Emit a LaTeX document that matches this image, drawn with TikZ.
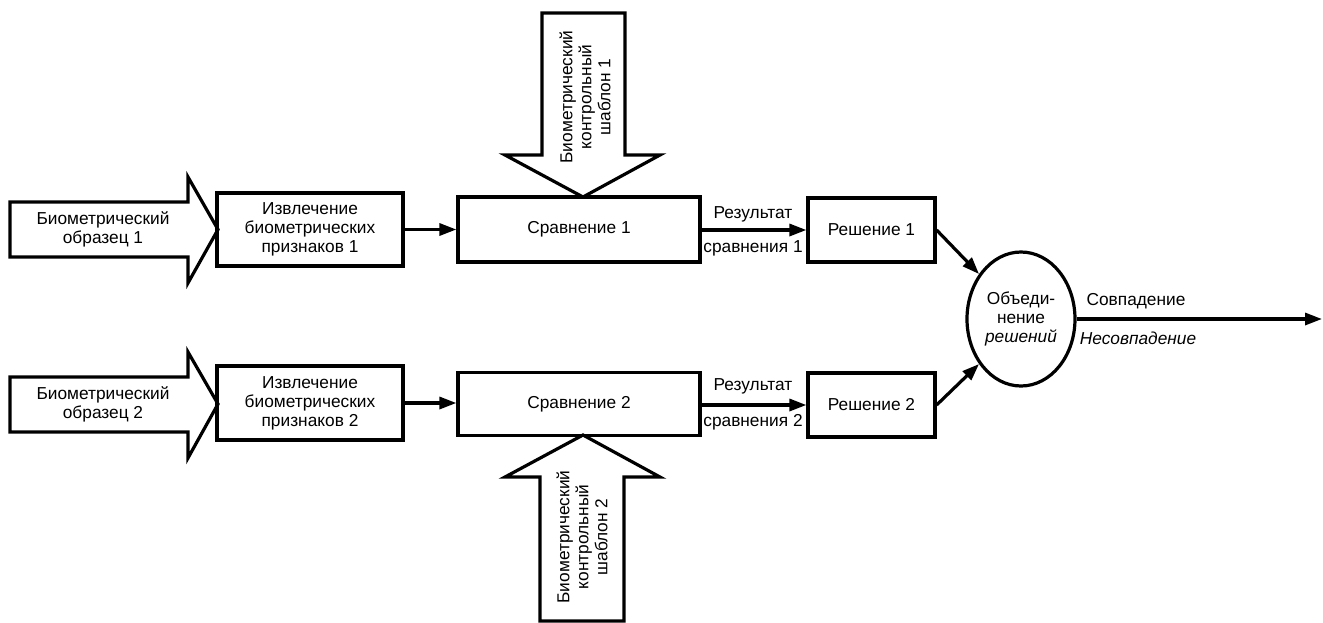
\documentclass[tikz,border=0pt]{standalone}
\usepackage{fontspec}
\setmainfont{Liberation Sans}
\usetikzlibrary{arrows.meta,shapes.geometric}
\tikzset{
  ln/.style={line width=3.2pt, line join=miter},
  box/.style={ln, draw, rectangle, inner sep=0pt, align=center},
  txt/.style={inner sep=0pt, align=center, font=\fontsize{17.3}{19}\selectfont},
  conn/.style={ln, -{Triangle[length=17pt,width=12pt]}},
  bigarrow/.style={ln, draw, fill=white},
}
\begin{document}
\begin{tikzpicture}[x=1pt,y=-1pt]
\useasboundingbox (0,0) rectangle (1323,622);
% big input arrows
\draw[bigarrow] (10,202) -- (188,202) -- (188,177) -- (218,229.5) -- (188,283) -- (188,257) -- (10,257) -- cycle;
\draw[bigarrow] (10,377) -- (188,377) -- (188,352) -- (218,404) -- (188,458) -- (188,432) -- (10,432) -- cycle;
\draw[bigarrow] (542,13) -- (625,13) -- (625,155) -- (660,155) -- (583,197) -- (505,155) -- (542,155) -- cycle;
\draw[bigarrow] (540,621) -- (624,621) -- (624,477) -- (660,477) -- (583,435) -- (505,477) -- (540,477) -- cycle;
\node[txt] (s1) at (103,229.5) {Биометрический\\образец 1};
\node[txt] (s2) at (103,404) {Биометрический\\образец 2};
\node[txt, rotate=90] (t1) at (585,97) {Биометрический\\контрольный\\шаблон 1};
\node[txt, rotate=90] (t2) at (582,537) {Биометрический\\контрольный\\шаблон 2};
% boxes
\node[box, txt, minimum width=186pt, minimum height=73pt] (ex1) at (310,229.5) {Извлечение\\биометрических\\признаков 1};
\node[box, txt, minimum width=186pt, minimum height=74pt] (ex2) at (310,403) {Извлечение\\биометрических\\признаков 2};
\node[box, txt, minimum width=242pt, minimum height=65pt] (cmp1) at (579,229.5) {Сравнение 1};
\node[box, txt, minimum width=242pt, minimum height=63pt] (cmp2) at (579,404) {Сравнение 2};
\node[box, txt, minimum width=127pt, minimum height=64pt] (dec1) at (871.5,230) {Решение 1};
\node[box, txt, minimum width=127pt, minimum height=64pt] (dec2) at (871.5,405) {Решение 2};
\node[ln, draw, ellipse, txt, minimum width=108pt, minimum height=134pt] (fus) at (1021,319) {Объеди-\\нение\\\textit{решений}};
\coordinate (out) at (1322,319);
% connectors
\draw[conn] (ex1.east) -- (ex1.east -| cmp1.west);
\draw[conn] (ex2.east) -- (ex2.east -| cmp2.west);
\draw[conn] (cmp1.east |- dec1.west) -- (dec1.west);
\draw[conn] (cmp2.east |- dec2.west) -- (dec2.west);
\draw[conn] (dec1.east) -- (fus.133);
\draw[conn] (dec2.east) -- (fus.-133);
\draw[conn] (fus.east) -- (out);
% labels
\node[txt] (r1a) at (753,214) {Результат};
\node[txt] (r1b) at (753,248) {сравнения 1};
\node[txt] (r2a) at (753,386) {Результат};
\node[txt] (r2b) at (753,422) {сравнения 2};
\node[txt] (m) at (1136,301) {Совпадение};
\node[txt] (nm) at (1138,338) {\textit{Несовпадение}};
\end{tikzpicture}
\end{document}
